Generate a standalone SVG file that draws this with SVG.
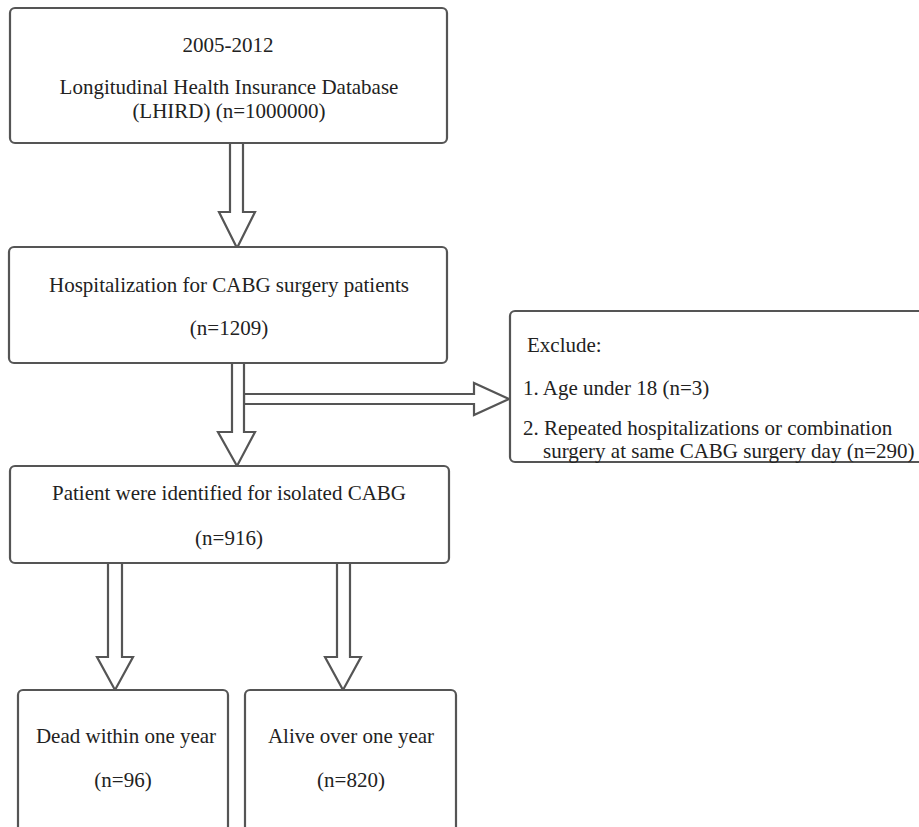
<svg xmlns="http://www.w3.org/2000/svg" width="919" height="827" viewBox="0 0 919 827">
<defs>
<style>
.box{fill:#fff;stroke:#555;stroke-width:2.2}
.arr{fill:#fff;stroke:#555;stroke-width:2.2;stroke-linejoin:miter}
.c{text-anchor:middle}
</style>
</defs>
<rect width="919" height="827" fill="#fff"/>
<g id="connectors">
<polygon class="arr" points="230,143 243,143 243,212 255,212 237,248 219,212 230,212"/>
<polygon class="arr" points="244,394 474,394 474,383 509,399 474,415 474,404 244,404"/>
<polygon class="arr" points="232,363 244,363 244,432 255,432 237,466 218,432 232,432"/>
<polygon class="arr" points="108,563 122,563 122,657 133,657 115,690 97,657 108,657"/>
<polygon class="arr" points="337,563 350,563 350,657 361,657 343,690 325,657 337,657"/>
</g>
<g font-family="Liberation Serif, Times New Roman, serif" font-size="21" fill="#222">
<g id="node-lhird">
<rect class="box" x="10" y="8" width="437" height="135" rx="5"/>
<text class="c" x="228" y="52">2005-2012</text>
<text class="c" x="229" y="94">Longitudinal Health Insurance Database</text>
<text class="c" x="229" y="118">(LHIRD) (n=1000000)</text>
</g>
<g id="node-hosp">
<rect class="box" x="9" y="247" width="438" height="116" rx="5"/>
<text class="c" x="229" y="292">Hospitalization for CABG surgery patients</text>
<text class="c" x="229" y="335">(n=1209)</text>
</g>
<g id="node-exclude">
<rect class="box" x="510" y="311" width="420" height="151" rx="5"/>
<text x="527" y="352">Exclude:</text>
<text x="523" y="395">1. Age under 18 (n=3)</text>
<text x="523" y="435">2. Repeated hospitalizations or combination</text>
<text x="543" y="458">surgery at same CABG surgery day (n=290)</text>
</g>
<g id="node-isolated">
<rect class="box" x="10" y="466" width="439" height="97" rx="5"/>
<text class="c" x="229" y="500">Patient were identified for isolated CABG</text>
<text class="c" x="229" y="545">(n=916)</text>
</g>
<g id="node-dead">
<rect class="box" x="18" y="690" width="210" height="150" rx="5"/>
<text class="c" x="126" y="743">Dead within one year</text>
<text class="c" x="123" y="787">(n=96)</text>
</g>
<g id="node-alive">
<rect class="box" x="245" y="690" width="211" height="150" rx="5"/>
<text class="c" x="351" y="743">Alive over one year</text>
<text class="c" x="351" y="787">(n=820)</text>
</g>
</g>
</svg>
